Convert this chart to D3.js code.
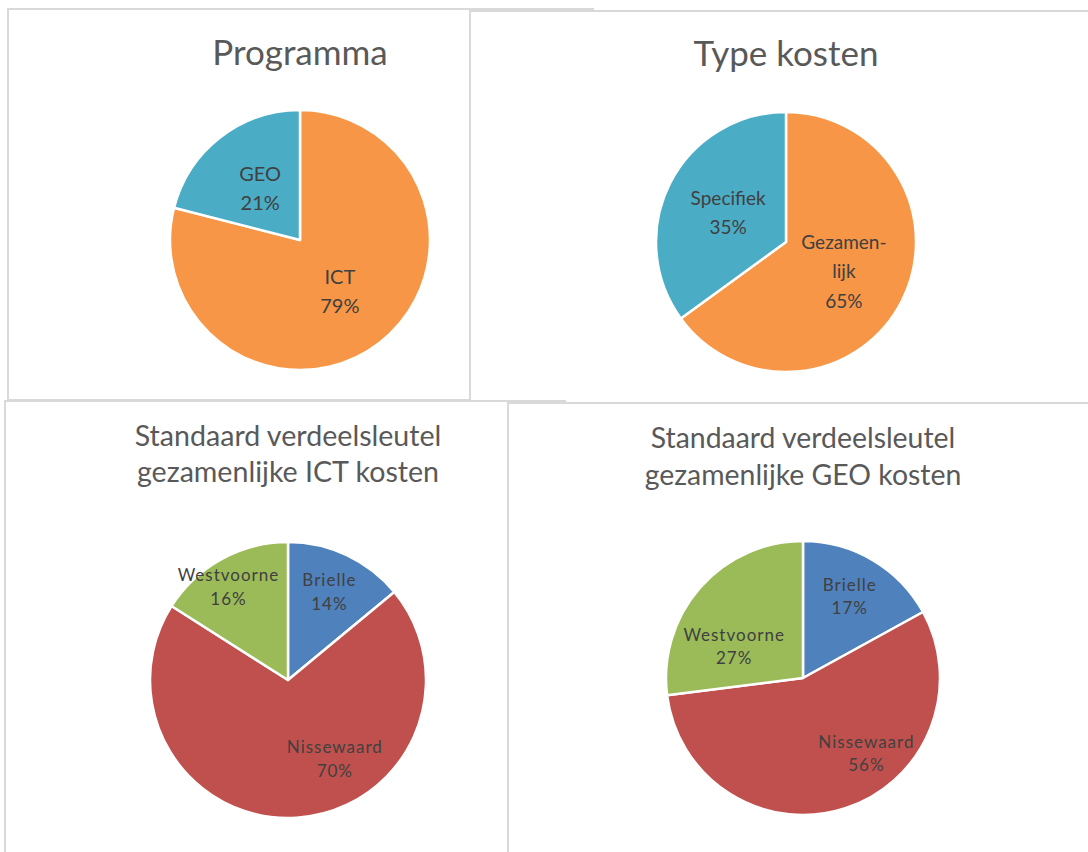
<!DOCTYPE html>
<html>
<head>
<meta charset="utf-8">
<script src="https://cdn.jsdelivr.net/npm/d3@7"></script>
<style>
  body { margin: 0; background: #fff; }
  text { font-family: Lato, "Open Sans", sans-serif; }
</style>
</head>
<body>
<div id="container"></div>
<script>
/* Data */
const programmaCats = ["ICT", "GEO"];
const programmaVals = [79, 21];

const typeCats = ["Gezamenlijk", "Specifiek"];
const typeLabels = [["Gezamen-", "lijk"], ["Specifiek"]];
const typeVals = [65, 35];

const gemeenten = ["Brielle", "Nissewaard", "Westvoorne"];
const ictVals = [14, 70, 16];
const geoVals = [17, 56, 27];

/* Layout */
const width = 1088, height = 852;

const svg = d3.select("#container")
  .append("svg")
  .attr("width", width)
  .attr("height", height);

const charts = [
  {
    box: [8, 9, 585, 391],
    title: ["Programma"], titleSize: 35, titleY: [65],
    cats: programmaCats, vals: programmaVals, labels: programmaCats.map(d => [d]),
    colors: ["#f79646", "#4bacc6"],
    cx: 300, cy: 240, r: 130, k: 0.5,
    labelSize: 20, lineH: 29, spacing: 0, nudges: [[0, 0], [0, 0]]
  },
  {
    box: [470, 11, 640, 392],
    title: ["Type kosten"], titleSize: 35, titleY: [66],
    cats: typeCats, vals: typeVals, labels: typeLabels,
    colors: ["#f79646", "#4bacc6"],
    cx: 786, cy: 242, r: 130, k: 0.5,
    labelSize: 19, lineH: 29.5, spacing: 0, nudges: [[0, 0], [0, 0]]
  },
  {
    box: [5, 401, 560, 470],
    title: ["Standaard verdeelsleutel", "gezamenlijke ICT kosten"], titleSize: 28.6, titleY: [446, 482],
    cats: gemeenten, vals: ictVals, labels: gemeenten.map(d => [d]),
    colors: ["#4f81bd", "#c0504d", "#9bbb59"],
    cx: 288, cy: 680, r: 138, k: 0.67,
    labelSize: 17, lineH: 24, spacing: 1, nudges: [[2, -4], [41, -13], [-15, -12]]
  },
  {
    box: [508, 403, 600, 470],
    title: ["Standaard verdeelsleutel", "gezamenlijke GEO kosten"], titleSize: 28.4, titleY: [448, 485],
    cats: gemeenten, vals: geoVals, labels: gemeenten.map(d => [d]),
    colors: ["#4f81bd", "#c0504d", "#9bbb59"],
    cx: 803, cy: 678, r: 137, k: 0.67,
    labelSize: 17, lineH: 23, spacing: 1, nudges: [[0, -3], [35, -12], [0, 29]]
  }
];

const pie = d3.pie().sort(null).value(d => d.value);

charts.forEach(c => {
  const g = svg.append("g");

  // panel frame
  g.append("rect")
    .attr("x", c.box[0]).attr("y", c.box[1])
    .attr("width", c.box[2]).attr("height", c.box[3])
    .attr("fill", "#fff")
    .attr("stroke", "#d9d9d9")
    .attr("stroke-width", 2);

  // title
  g.selectAll(".title")
    .data(c.title)
    .join("text")
    .attr("class", "title")
    .attr("x", c.cx)
    .attr("y", (d, i) => c.titleY[i])
    .attr("text-anchor", "middle")
    .attr("font-size", c.titleSize)
    .attr("fill", "#595959")
    .text(d => d);

  const data = c.cats.map((cat, i) => ({cat, value: c.vals[i], lines: c.labels[i]}));
  const arcs = pie(data);
  const color = d3.scaleOrdinal().domain(c.cats).range(c.colors);
  const arc = d3.arc().innerRadius(0).outerRadius(c.r);
  const labelArc = d3.arc().innerRadius(c.r * c.k).outerRadius(c.r * c.k);

  const pg = g.append("g").attr("transform", `translate(${c.cx},${c.cy})`);

  pg.selectAll("path")
    .data(arcs)
    .join("path")
    .attr("d", arc)
    .attr("fill", d => color(d.data.cat))
    .attr("stroke", "#fff")
    .attr("stroke-width", 2.5)
    .attr("stroke-linejoin", "round");

  // data labels: category + percentage
  const total = d3.sum(c.vals);
  const lab = pg.selectAll(".lab")
    .data(arcs)
    .join("text")
    .attr("class", "lab")
    .attr("text-anchor", "middle")
    .attr("font-size", c.labelSize)
    .attr("letter-spacing", c.spacing)
    .attr("fill", "#404040")
    .attr("transform", (d, i) => {
      const [x, y] = labelArc.centroid(d);
      return `translate(${x + c.nudges[i][0]},${y + c.nudges[i][1]})`;
    });

  lab.each(function(d) {
    const lines = d.data.lines.concat([Math.round(d.data.value / total * 100) + "%"]);
    const n = lines.length;
    d3.select(this).selectAll("tspan")
      .data(lines)
      .join("tspan")
      .attr("x", 0)
      .attr("y", (t, j) => (j - (n - 1) / 2) * c.lineH + c.labelSize * 0.36)
      .text(t => t);
  });
});
</script>
</body>
</html>
